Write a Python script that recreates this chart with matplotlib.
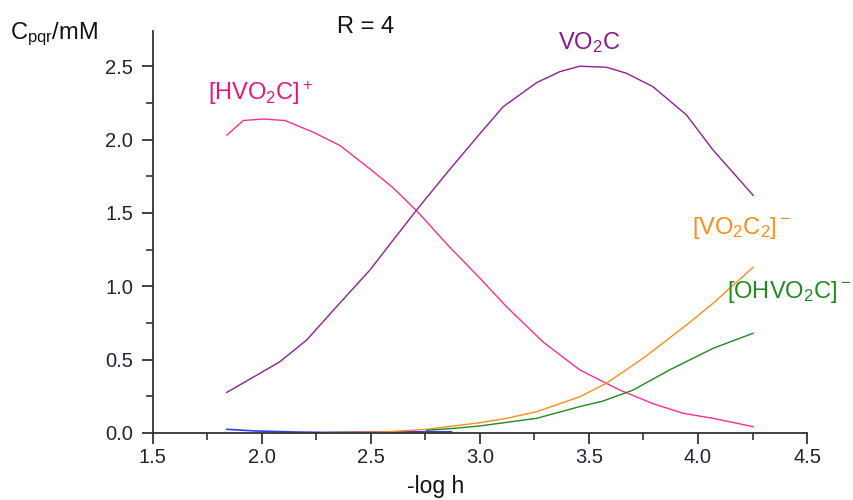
import matplotlib
matplotlib.use("Agg")
import matplotlib.pyplot as plt
from matplotlib.ticker import MultipleLocator

plt.rcParams['font.family'] = ['Liberation Sans', 'DejaVu Sans']
plt.rcParams['mathtext.default'] = 'regular'

# [HVO2C]+
x_hvo2c = [1.84, 1.915, 2.007, 2.106, 2.236, 2.358, 2.496, 2.603, 2.71, 2.847,
           3.0, 3.122, 3.29, 3.458, 3.641, 3.794, 3.932, 4.069, 4.253]
y_hvo2c = [2.03, 2.13, 2.14, 2.13, 2.05, 1.96, 1.80, 1.67, 1.515, 1.29,
           1.055, 0.861, 0.62, 0.43, 0.293, 0.20, 0.134, 0.10, 0.043]

# VO2C
x_vo2c = [1.84, 1.992, 2.083, 2.206, 2.343, 2.496, 2.603, 2.71, 2.847, 3.0,
          3.107, 3.26, 3.367, 3.458, 3.58, 3.672, 3.794, 3.947, 4.069, 4.253]
y_vo2c = [0.277, 0.407, 0.486, 0.634, 0.861, 1.111, 1.316, 1.52, 1.77, 2.04,
          2.224, 2.388, 2.463, 2.50, 2.493, 2.452, 2.36, 2.168, 1.929, 1.62]

# [VO2C2]-
x_vo2c2 = [2.28, 2.57, 2.756, 3.0, 3.122, 3.26, 3.458, 3.58, 3.748, 3.947, 4.069, 4.253]
y_vo2c2 = [0.003, 0.008, 0.025, 0.07, 0.10, 0.145, 0.247, 0.339, 0.509, 0.736, 0.884, 1.13]

# [OHVO2C]-
x_ohvo2c = [2.756, 2.87, 3.0, 3.26, 3.458, 3.565, 3.703, 3.87, 4.069, 4.253]
y_ohvo2c = [0.018, 0.03, 0.048, 0.10, 0.18, 0.218, 0.293, 0.43, 0.577, 0.68]

# minor species near zero
x_minor = [1.84, 1.97, 2.15, 2.28, 2.57, 2.87]
y_minor = [0.025, 0.014, 0.007, 0.004, 0.008, 0.008]

fig = plt.figure(figsize=(8.54, 5.0), dpi=100)
ax = fig.add_axes([0.1788, 0.134, 0.7662, 0.804])

ax.plot(x_minor, y_minor, color='#3a3aff', lw=1.2)
ax.plot(x_hvo2c, y_hvo2c, color='#ff2d8f', lw=1.0)
ax.plot(x_vo2c, y_vo2c, color='#8e1f96', lw=1.0)
ax.plot(x_vo2c2, y_vo2c2, color='#ff8c1a', lw=1.0)
ax.plot(x_ohvo2c, y_ohvo2c, color='#1f8a1f', lw=1.0)

ax.set_xlim(1.5, 4.5)
ax.set_ylim(0, 2.74)
ax.xaxis.set_major_locator(MultipleLocator(0.5))
ax.xaxis.set_minor_locator(MultipleLocator(0.25))
ax.yaxis.set_major_locator(MultipleLocator(0.5))
ax.yaxis.set_minor_locator(MultipleLocator(0.25))
ax.xaxis.set_major_formatter(lambda v, p: f"{v:.1f}")
ax.yaxis.set_major_formatter(lambda v, p: f"{v:.1f}")

for s in ['top', 'right']:
    ax.spines[s].set_visible(False)
for s in ['left', 'bottom']:
    ax.spines[s].set_color('#333333')
    ax.spines[s].set_linewidth(1.3)

ax.tick_params(which='major', direction='out', length=8, width=1.3,
               color='#333333', labelsize=14.5, labelcolor='#222233')
ax.tick_params(which='minor', direction='out', length=5, width=1.2, color='#333333')
ax.tick_params(axis='y', which='major', pad=6)
ax.tick_params(axis='x', which='major', pad=3)

ax.set_xlabel('-log h', fontsize=16.5, color='#111111')
ax.xaxis.set_label_coords(0.433, -0.105)

fig.text(0.012, 0.932, r'C$_{pqr}$/mM', fontsize=17, color='#111111', va='center')
fig.text(0.428, 0.946, 'R = 4', fontsize=17, color='#111111', ha='center', va='center')

ax.text(1.996, 2.32, r'[HVO$_2$C]$^+$', fontsize=17, color='#e8147a', ha='center', va='center')
ax.text(3.50, 2.66, r'VO$_2$C', fontsize=17, color='#8b1a8b', ha='center', va='center')
ax.text(4.20, 1.40, r'[VO$_2$C$_2$]$^-$', fontsize=17, color='#ff8c1a', ha='center', va='center')
ax.text(4.417, 0.96, r'[OHVO$_2$C]$^-$', fontsize=17, color='#1f8a1f', ha='center', va='center',
        clip_on=False)

fig.savefig('out.png', dpi=100)
